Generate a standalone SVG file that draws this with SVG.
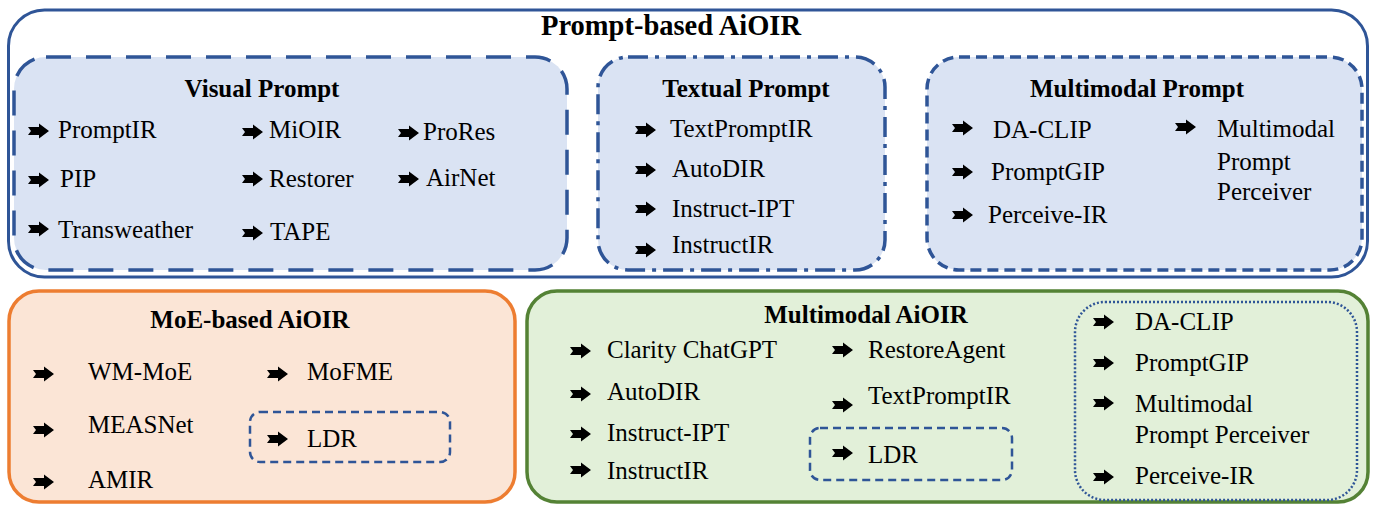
<svg xmlns="http://www.w3.org/2000/svg" xmlns:xlink="http://www.w3.org/1999/xlink" width="1373" height="506" viewBox="0 0 1373 506">
<style>
.t{font-family:"Liberation Serif","Times New Roman",serif;font-size:25px;fill:#000}
.h{font-family:"Liberation Serif","Times New Roman",serif;font-size:25px;font-weight:bold;fill:#000;text-anchor:middle}
.H{font-family:"Liberation Serif","Times New Roman",serif;font-size:28.5px;font-weight:bold;fill:#000;text-anchor:middle}
.blue{stroke:#2F5597;fill:#DAE3F3}
</style>
<defs>
<path id="arr" d="M0,-4 L11,-4 L11,-7.5 L21,0 L11,7.5 L11,4 L0,4 L3,0 Z" fill="#000"/>
</defs>
<rect width="1373" height="506" fill="#fff"/>

<g id="prompt-based">
<rect x="8.5" y="10" width="1359" height="267" rx="36" fill="#fff" stroke="#2F5597" stroke-width="3"/>
<text class="H" x="671" y="35">Prompt-based AiOIR</text>
</g>

<g id="visual-prompt">
<rect class="blue" x="14" y="57" width="553" height="213" rx="32" stroke-width="3.5" stroke-dasharray="25 15"/>
<text class="h" x="262" y="97">Visual Prompt</text>
<use href="#arr" x="28" y="131"/><text class="t" x="58" y="138">PromptIR</text>
<use href="#arr" x="28" y="180"/><text class="t" x="60" y="187">PIP</text>
<use href="#arr" x="28" y="229"/><text class="t" x="58" y="238">Transweather</text>
<use href="#arr" x="242" y="132"/><text class="t" x="269" y="138">MiOIR</text>
<use href="#arr" x="242" y="179"/><text class="t" x="269" y="187">Restorer</text>
<use href="#arr" x="242" y="233"/><text class="t" x="270" y="240">TAPE</text>
<use href="#arr" x="398" y="133"/><text class="t" x="423" y="140">ProRes</text>
<use href="#arr" x="398" y="179"/><text class="t" x="426" y="186">AirNet</text>
</g>

<g id="textual-prompt">
<rect class="blue" x="598" y="57" width="287" height="213" rx="30" stroke-width="3.5" stroke-dasharray="20 7 4 7"/>
<text class="h" x="746" y="97">Textual Prompt</text>
<use href="#arr" x="635" y="130"/><text class="t" x="670" y="137">TextPromptIR</text>
<use href="#arr" x="635" y="170"/><text class="t" x="672" y="177">AutoDIR</text>
<use href="#arr" x="635" y="209"/><text class="t" x="672" y="217">Instruct-IPT</text>
<use href="#arr" x="635" y="250"/><text class="t" x="672" y="253">InstructIR</text>
</g>

<g id="multimodal-prompt">
<rect class="blue" x="927" y="57" width="435" height="213" rx="32" stroke-width="3.5" stroke-dasharray="11 6"/>
<text class="h" x="1137" y="97">Multimodal Prompt</text>
<use href="#arr" x="952" y="128"/><text class="t" x="993" y="138">DA-CLIP</text>
<use href="#arr" x="952" y="172"/><text class="t" x="991" y="180">PromptGIP</text>
<use href="#arr" x="952" y="215"/><text class="t" x="988" y="223">Perceive-IR</text>
<use href="#arr" x="1175" y="127"/>
<text class="t" x="1217" y="137">Multimodal</text>
<text class="t" x="1217" y="170">Prompt</text>
<text class="t" x="1217" y="200">Perceiver</text>
</g>

<g id="moe-based">
<rect x="9" y="291" width="506" height="211" rx="30" fill="#FBE5D6" stroke="#ED7D31" stroke-width="3.5"/>
<text class="h" x="250" y="328">MoE-based AiOIR</text>
<use href="#arr" x="33" y="374"/><text class="t" x="88" y="380">WM-MoE</text>
<use href="#arr" x="33" y="430"/><text class="t" x="88" y="433">MEASNet</text>
<use href="#arr" x="33" y="482"/><text class="t" x="88" y="488">AMIR</text>
<use href="#arr" x="267" y="374"/><text class="t" x="307" y="380">MoFME</text>
<g id="moe-ldr">
<rect x="250" y="412" width="200" height="50" rx="10" fill="none" stroke="#2F5597" stroke-width="2.5" stroke-dasharray="8 5"/>
<use href="#arr" x="267" y="439"/><text class="t" x="307" y="447">LDR</text>
</g>
</g>

<g id="multimodal-aioir">
<rect x="527" y="291" width="841" height="211" rx="30" fill="#E2F0D9" stroke="#548235" stroke-width="3.5"/>
<text class="h" x="866" y="323">Multimodal AiOIR</text>
<use href="#arr" x="570" y="351"/><text class="t" x="607" y="358">Clarity ChatGPT</text>
<use href="#arr" x="570" y="394"/><text class="t" x="607" y="400">AutoDIR</text>
<use href="#arr" x="570" y="434"/><text class="t" x="607" y="441">Instruct-IPT</text>
<use href="#arr" x="570" y="470"/><text class="t" x="607" y="479">InstructIR</text>
<use href="#arr" x="832" y="350"/><text class="t" x="868" y="358">RestoreAgent</text>
<use href="#arr" x="832" y="405"/><text class="t" x="868" y="404">TextPromptIR</text>
<g id="mm-ldr">
<rect x="810" y="428" width="202" height="52" rx="10" fill="none" stroke="#2F5597" stroke-width="2.5" stroke-dasharray="8 5"/>
<use href="#arr" x="832" y="453"/><text class="t" x="868" y="463">LDR</text>
</g>
<g id="mm-prompt-sub">
<rect x="1075" y="302" width="282" height="198" rx="30" fill="none" stroke="#2F5597" stroke-width="2.5" stroke-dasharray="2 2"/>
<use href="#arr" x="1093" y="322"/><text class="t" x="1135" y="330">DA-CLIP</text>
<use href="#arr" x="1093" y="363"/><text class="t" x="1135" y="371">PromptGIP</text>
<use href="#arr" x="1093" y="403"/><text class="t" x="1135" y="412">Multimodal</text>
<text class="t" x="1135" y="443">Prompt Perceiver</text>
<use href="#arr" x="1093" y="477"/><text class="t" x="1135" y="484">Perceive-IR</text>
</g>
</g>

<g id="connectors"></g>
</svg>
